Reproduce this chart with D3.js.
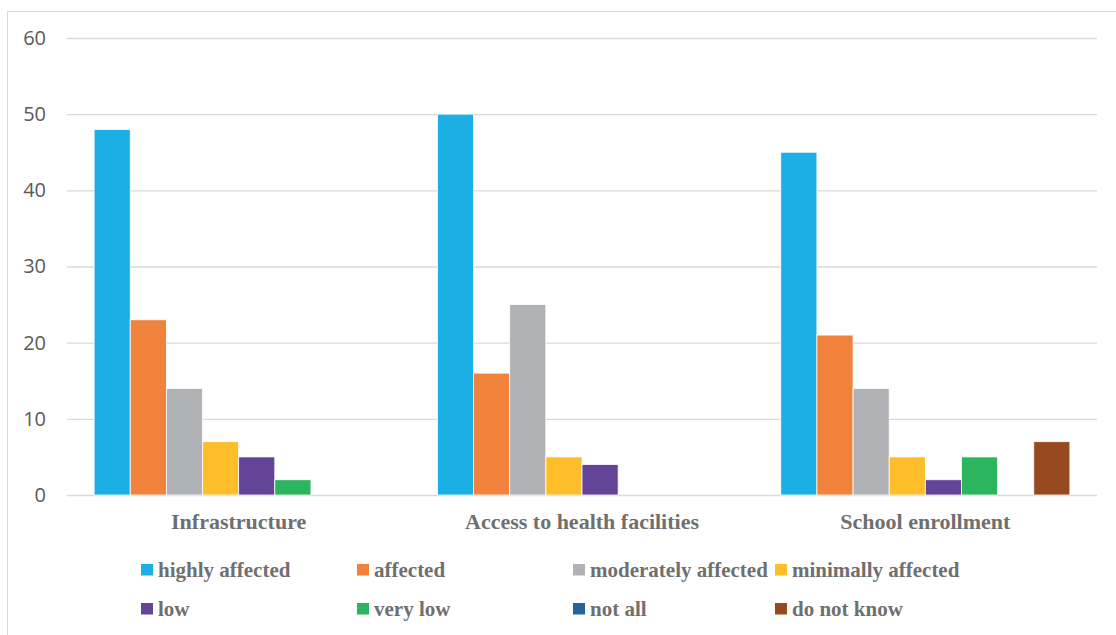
<!DOCTYPE html>
<html>
<head>
<meta charset="utf-8">
<script src="https://cdn.jsdelivr.net/npm/d3@7"></script>
<style>
  html, body { margin: 0; padding: 0; background: #fff; }
  svg { display: block; }
</style>
</head>
<body>
<svg id="chart" width="1116" height="635"></svg>
<script>
// Survey responses per sector
const categories = ["Infrastructure", "Access to health facilities", "School enrollment"];
const seriesNames = ["highly affected", "affected", "moderately affected", "minimally affected",
                     "low", "very low", "not all", "do not know"];
const infrastructure = [48, 23, 14, 7, 5, 2, 0, 0];
const healthAccess   = [50, 16, 25, 5, 4, 0, 0, 0];
const schoolEnroll   = [45, 21, 14, 5, 2, 5, 0, 7];
const yTicks = [0, 10, 20, 30, 40, 50, 60];

const seriesColors = ["#1CAFE5", "#F0823C", "#B1B2B6", "#FDBE2A",
                      "#644497", "#2BB55F", "#256497", "#974A1F"];

const valuesByCategory = [infrastructure, healthAccess, schoolEnroll];

const svg = d3.select("#chart");
const W = 1116, H = 635;
const plot = { left: 67, right: 1097, top: 38, bottom: 495 };

// outer frame (top and left edges)
svg.append("line").attr("x1", 7.5).attr("x2", W).attr("y1", 11.5).attr("y2", 11.5)
  .attr("stroke", "#d9d9d9").attr("stroke-width", 1);
svg.append("line").attr("x1", 7.5).attr("x2", 7.5).attr("y1", 11.5).attr("y2", H)
  .attr("stroke", "#d9d9d9").attr("stroke-width", 1);

const y = d3.scaleLinear().domain([0, 60]).range([plot.bottom, plot.top]);
const x0 = d3.scaleBand().domain(categories).range([plot.left, plot.right]).padding(0);
const x1 = d3.scaleBand().domain(seriesNames).range([0, x0.bandwidth()])
  .paddingInner(0).paddingOuter(0.75);
const color = d3.scaleOrdinal().domain(seriesNames).range(seriesColors);

// gridlines + y labels
const yAxis = d3.axisLeft(y).tickValues(yTicks).tickSize(-(plot.right - plot.left)).tickPadding(21);
const gy = svg.append("g").attr("transform", `translate(${plot.left},0)`).call(yAxis);
gy.select(".domain").remove();
gy.selectAll(".tick line").attr("stroke", "#d9d9d9").attr("stroke-width", 1.3);
gy.selectAll(".tick text")
  .attr("fill", "#595959")
  .style("font-family", "'Open Sans', 'Noto Sans', sans-serif")
  .style("font-size", "20px");

// bars
const groups = svg.append("g").selectAll("g")
  .data(categories.map((c, i) => ({ cat: c, vals: valuesByCategory[i] })))
  .join("g")
  .attr("transform", d => `translate(${x0(d.cat)},0)`);

groups.selectAll("rect")
  .data(d => d.vals.map((v, j) => ({ key: seriesNames[j], value: v })))
  .join("rect")
  .filter(d => d.value > 0)
  .attr("x", d => x1(d.key))
  .attr("width", x1.bandwidth())
  .attr("y", d => y(d.value))
  .attr("height", d => y(0) - y(d.value))
  .attr("fill", d => color(d.key))
  .attr("stroke", "#ffffff")
  .attr("stroke-width", 0.8);

// category labels
const gx = svg.append("g").attr("transform", `translate(0,${plot.bottom})`)
  .call(d3.axisBottom(x0).tickSize(0).tickPadding(0));
gx.select(".domain").remove();
gx.selectAll(".tick text")
  .attr("y", 34)
  .attr("dy", 0)
  .attr("fill", "#6f6f6f")
  .style("font-family", "'Liberation Serif', 'Times New Roman', serif")
  .style("font-weight", "bold")
  .style("font-size", "22px");

// legend
const legendCols = [141, 357, 573, 775];
const legendRows = [570, 609];
const legend = svg.append("g");
seriesNames.forEach((name, i) => {
  const cx = legendCols[i % 4], cy = legendRows[Math.floor(i / 4)];
  legend.append("rect")
    .attr("x", cx).attr("y", cy - 6).attr("width", 12).attr("height", 11.5)
    .attr("fill", color(name));
  legend.append("text")
    .attr("x", cx + 17).attr("y", cy)
    .attr("dominant-baseline", "central")
    .attr("fill", "#6f6f6f")
    .style("font-family", "'Liberation Serif', 'Times New Roman', serif")
    .style("font-weight", "bold")
    .style("font-size", "21px")
    .text(name);
});
</script>
</body>
</html>
